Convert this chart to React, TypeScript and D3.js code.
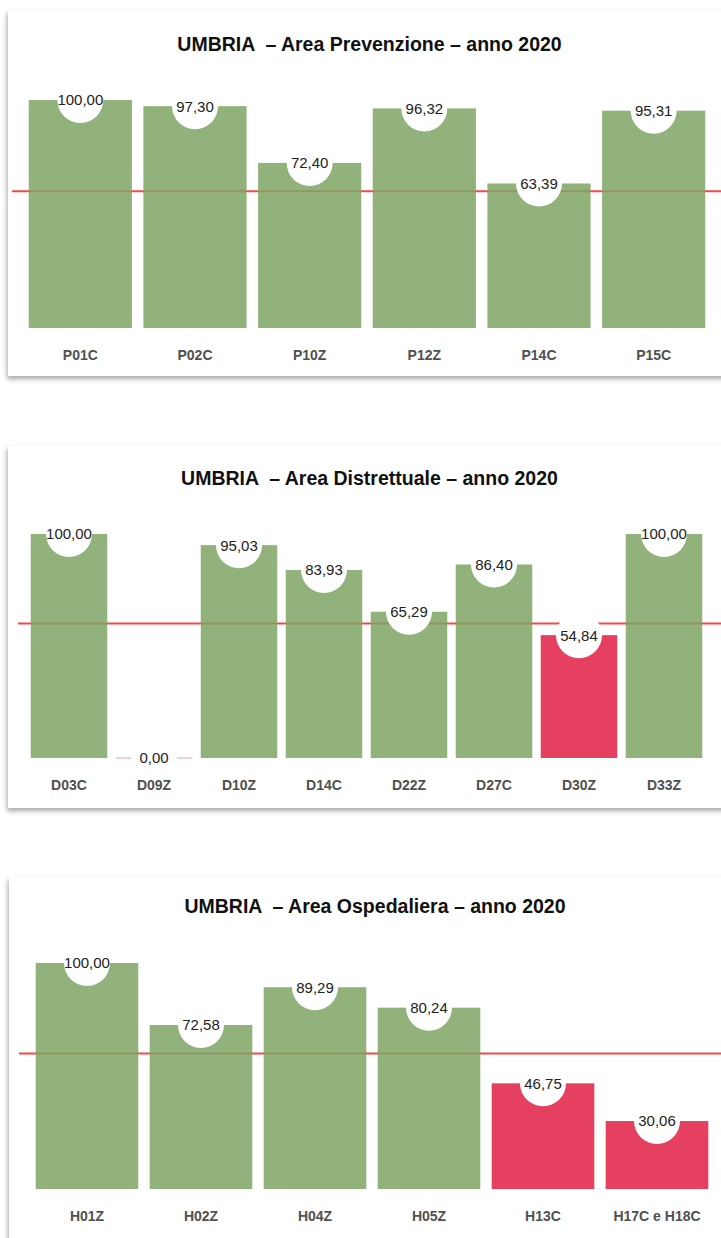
import React from 'react';
import * as d3 from 'd3';

// Area Prevenzione
const prevCategories = ['P01C', 'P02C', 'P10Z', 'P12Z', 'P14C', 'P15C'];
const prevValues = [100.0, 97.3, 72.4, 96.32, 63.39, 95.31];

// Area Distrettuale
const distCategories = ['D03C', 'D09Z', 'D10Z', 'D14C', 'D22Z', 'D27C', 'D30Z', 'D33Z'];
const distValues = [100.0, 0.0, 95.03, 83.93, 65.29, 86.4, 54.84, 100.0];

// Area Ospedaliera
const ospCategories = ['H01Z', 'H02Z', 'H04Z', 'H05Z', 'H13C', 'H17C e H18C'];
const ospValues = [100.0, 72.58, 89.29, 80.24, 46.75, 30.06];

const threshold = 60;

const GREEN = '#7fa565';
const RED = '#e11e43';
const LINE_RED = '#f44848';
const FONT = '"Liberation Sans", Arial, Helvetica, sans-serif';

interface PanelProps {
  title: string;
  categories: string[];
  values: number[];
  cardX: number;
  cardY: number;
  cardH: number;
  titleX: number;
  titleY: number;
  x0: number;
  x1: number;
  top: number;
  bottom: number;
  lineX0: number;
}

const fmt = (v: number) => v.toFixed(2).replace('.', ',');

const Panel: React.FC<PanelProps> = (p) => {
  const x = d3.scaleBand<string>()
    .domain(p.categories)
    .range([p.x0, p.x1])
    .paddingInner(0.1)
    .paddingOuter(0.05);

  const y = d3.scaleLinear()
    .domain([0, 100])
    .range([p.bottom, p.top]);

  const bw = x.bandwidth();

  return (
    <g>
      <rect x={p.cardX} y={p.cardY} width={760} height={p.cardH} fill="#fff" filter="url(#shadow)" />
      <text
        x={p.titleX}
        y={p.titleY}
        textAnchor="middle"
        fontFamily={FONT}
        fontWeight="bold"
        fontSize={19.5}
        fill="#111"
        style={{ whiteSpace: 'pre' }}
      >
        {p.title}
      </text>

      {/* threshold line sits under the translucent bars */}
      <line x1={p.lineX0} x2={721} y1={y(threshold)} y2={y(threshold)} stroke={LINE_RED} strokeWidth={2} />

      {p.categories.map((c, i) => {
        const v = p.values[i];
        const col = v < threshold ? RED : GREEN;
        const bx = x(c)!;
        if (v === 0) {
          return (
            <line key={c} x1={bx} x2={bx + bw} y1={y(0)} y2={y(0)} stroke="#ec9aae" strokeWidth={1} />
          );
        }
        return (
          <rect key={c} x={bx} y={y(v)} width={bw} height={y(0) - y(v)} fill={col} fillOpacity={0.85} />
        );
      })}

      {p.categories.map((c, i) => {
        const v = p.values[i];
        const cx = x(c)! + bw / 2;
        return (
          <g key={c + '-lbl'}>
            <circle cx={cx} cy={y(v)} r={23} fill="#fff" />
            <text x={cx} y={y(v)} dy="0.36em" textAnchor="middle" fontFamily={FONT} fontSize={15} fill="#222">
              {fmt(v)}
            </text>
            <text
              x={cx}
              y={p.bottom + 32}
              textAnchor="middle"
              fontFamily={FONT}
              fontWeight="bold"
              fontSize={14}
              fill="#505050"
            >
              {c}
            </text>
          </g>
        );
      })}
    </g>
  );
};

const App: React.FC = () => {
  return (
    <div style={{ position: 'absolute', left: 0, top: 0 }}>
      <svg width={721} height={1238} style={{ display: 'block', background: '#fff' }}>
        <defs>
          <filter id="shadow" x="-5%" y="-5%" width="110%" height="115%">
            <feDropShadow dx={-1} dy={3} stdDeviation={2.5} floodColor="#000" floodOpacity={0.35} />
          </filter>
        </defs>
        <Panel
          title="UMBRIA  – Area Prevenzione – anno 2020"
          categories={prevCategories}
          values={prevValues}
          cardX={8}
          cardY={10}
          cardH={366}
          titleX={369.5}
          titleY={51}
          x0={23}
          x1={711}
          top={100}
          bottom={328}
          lineX0={12}
        />
        <Panel
          title="UMBRIA  – Area Distrettuale – anno 2020"
          categories={distCategories}
          values={distValues}
          cardX={8}
          cardY={446}
          cardH={362}
          titleX={369.5}
          titleY={485}
          x0={26.5}
          x1={706.5}
          top={534}
          bottom={758}
          lineX0={18}
        />
        <Panel
          title="UMBRIA  – Area Ospedaliera – anno 2020"
          categories={ospCategories}
          values={ospValues}
          cardX={9}
          cardY={877}
          cardH={400}
          titleX={375}
          titleY={913}
          x0={30}
          x1={714}
          top={963}
          bottom={1189}
          lineX0={19}
        />
      </svg>
    </div>
  );
};

export default App;
